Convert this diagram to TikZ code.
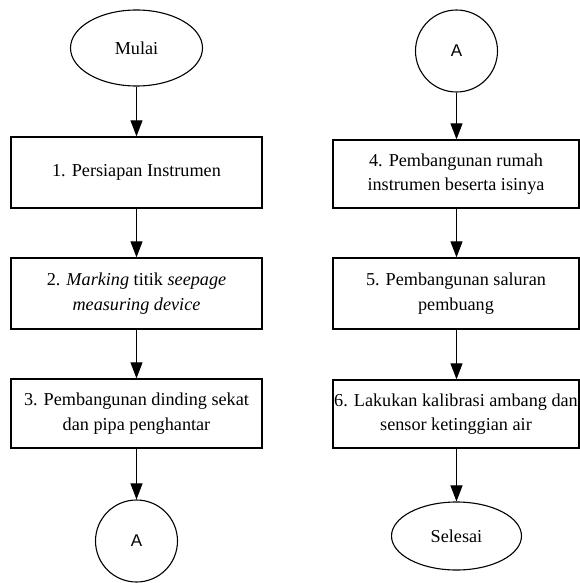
\documentclass[tikz,border=0pt]{standalone}
\usepackage{fontspec}
\setmainfont{Liberation Serif}
\newfontfamily\labelsans{Liberation Sans}
\usetikzlibrary{shapes.geometric,arrows.meta}
\begin{document}
\begin{tikzpicture}[x=1pt,y=-1pt,
  stepbox/.style={draw, line width=1.3pt, rectangle, inner sep=0pt, align=center,
    font=\fontsize{18.2}{24.5}\selectfont},
  terminal/.style={draw, line width=1.1pt, ellipse, inner sep=0pt,
    font=\fontsize{18.2}{24.5}\selectfont},
  connector/.style={draw, line width=1.1pt, circle, inner sep=0pt,
    minimum size=82pt, font=\labelsans\fontsize{17}{19}\selectfont},
  flow/.style={draw, line width=0.9pt, -{Triangle[length=16pt,width=12pt]}}]
\useasboundingbox (0,0) rectangle (580,583);

% left column
\node[terminal, minimum width=132pt, minimum height=76pt] (mulai) at (136.5,48) {Mulai};
\node[stepbox, minimum width=251pt, minimum height=71pt] (s1) at (136.5,172.5) {1. Persiapan Instrumen};
\node[stepbox, minimum width=251pt, minimum height=71pt] (s2) at (136.5,293.5)
  {2. \textit{Marking} titik \textit{seepage}\\\textit{measuring device}};
\node[stepbox, minimum width=251pt, minimum height=69pt] (s3) at (136.5,413.5)
  {3. Pembangunan dinding sekat\\dan pipa penghantar};
\node[connector] (outA) at (136.5,541) {A};

% right column
\node[connector] (inA) at (456.5,51) {A};
\node[stepbox, minimum width=246pt, minimum height=68pt] (s4) at (456,174)
  {4. Pembangunan rumah\\instrumen beserta isinya};
\node[stepbox, minimum width=246pt, minimum height=71pt] (s5) at (456,293.5)
  {5. Pembangunan saluran\\pembuang};
\node[stepbox, minimum width=246pt, minimum height=68pt] (s6) at (456,414)
  {6. Lakukan kalibrasi ambang dan\\sensor ketinggian air};
\node[terminal, minimum width=130pt, minimum height=68pt] (selesai) at (456.5,536) {Selesai};

% connectors
\draw[flow] (mulai.south) -- (s1.north);
\draw[flow] (s1.south) -- (s2.north);
\draw[flow] (s2.south) -- (s3.north);
\draw[flow] (s3.south) -- (outA.north);
\draw[flow] (inA.south) -- (inA.south |- s4.north);
\draw[flow] (inA.south |- s4.south) -- (inA.south |- s5.north);
\draw[flow] (inA.south |- s5.south) -- (inA.south |- s6.north);
\draw[flow] (inA.south |- s6.south) -- (selesai.north);
\end{tikzpicture}
\end{document}
